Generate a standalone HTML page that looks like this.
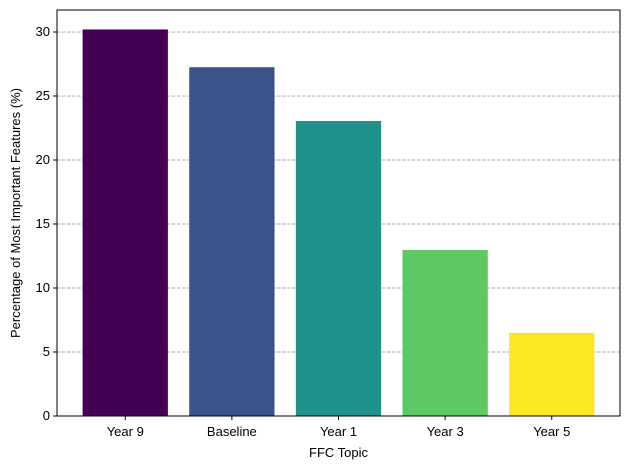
<!DOCTYPE html>
<html><head><meta charset="utf-8"><style>
body{margin:0;background:#fff;font-family:"Liberation Sans",sans-serif;}
svg{display:block}
</style></head><body>
<svg id="chart" width="630" height="470"></svg>
<script>
const categories=["Year 9","Baseline","Year 1","Year 3","Year 5"];
const values=[30.2,27.25,23.05,12.97,6.5];
const colors=["#440154","#3b528b","#21918c","#5ec962","#fde725"];
const yTicks=[0,5,10,15,20,25,30];
const L=57,R=620,T=10,B=416;
const yMax=31.72;
const ns="http://www.w3.org/2000/svg";
const svg=document.getElementById('chart');
function y(v){return B-(v/yMax)*(B-T);}
function x(i){return L+(i+0.64)/5.28*(R-L);}
const bw=0.8/5.28*(R-L);
function mk(t,a,txt){const e=document.createElementNS(ns,t);for(const k in a)e.setAttribute(k,a[k]);if(txt!=null)e.textContent=txt;svg.appendChild(e);return e;}
yTicks.forEach(t=>{
  if(t>0){const g=mk('line',{x1:L,x2:R,y1:y(t),y2:y(t),stroke:'#a8a8a8','stroke-dasharray':'3.5,1.5','stroke-width':0.9});
  
  }
});
values.forEach((v,i)=>{
  const r=mk('rect',{x:x(i)-bw/2,y:y(v),width:bw,height:B-y(v),fill:colors[i]});
  
  
});
yTicks.forEach(t=>{
  mk('line',{x1:L-4,x2:L,y1:y(t),y2:y(t),stroke:'#000'});
  const l=mk('text',{x:L-7,y:y(t)+4,'text-anchor':'end','font-size':13},t);
  
  
});
categories.forEach((c,i)=>{
  mk('line',{x1:x(i),x2:x(i),y1:B,y2:B+4,stroke:'#000'});
  const l=mk('text',{x:x(i),y:B+20,'text-anchor':'middle','font-size':13},c);
  
  
});
const f=mk('rect',{x:L,y:T,width:R-L,height:B-T,fill:'none',stroke:'#000','stroke-width':1});


const xt=mk('text',{x:(L+R)/2,y:457,'text-anchor':'middle','font-size':13},'FFC Topic');


const yt=mk('text',{x:20,y:(T+B)/2,'text-anchor':'middle','font-size':13,transform:'rotate(-90 20 '+((T+B)/2)+')'},'Percentage of Most Important Features (%)');


</script>
</body></html>
